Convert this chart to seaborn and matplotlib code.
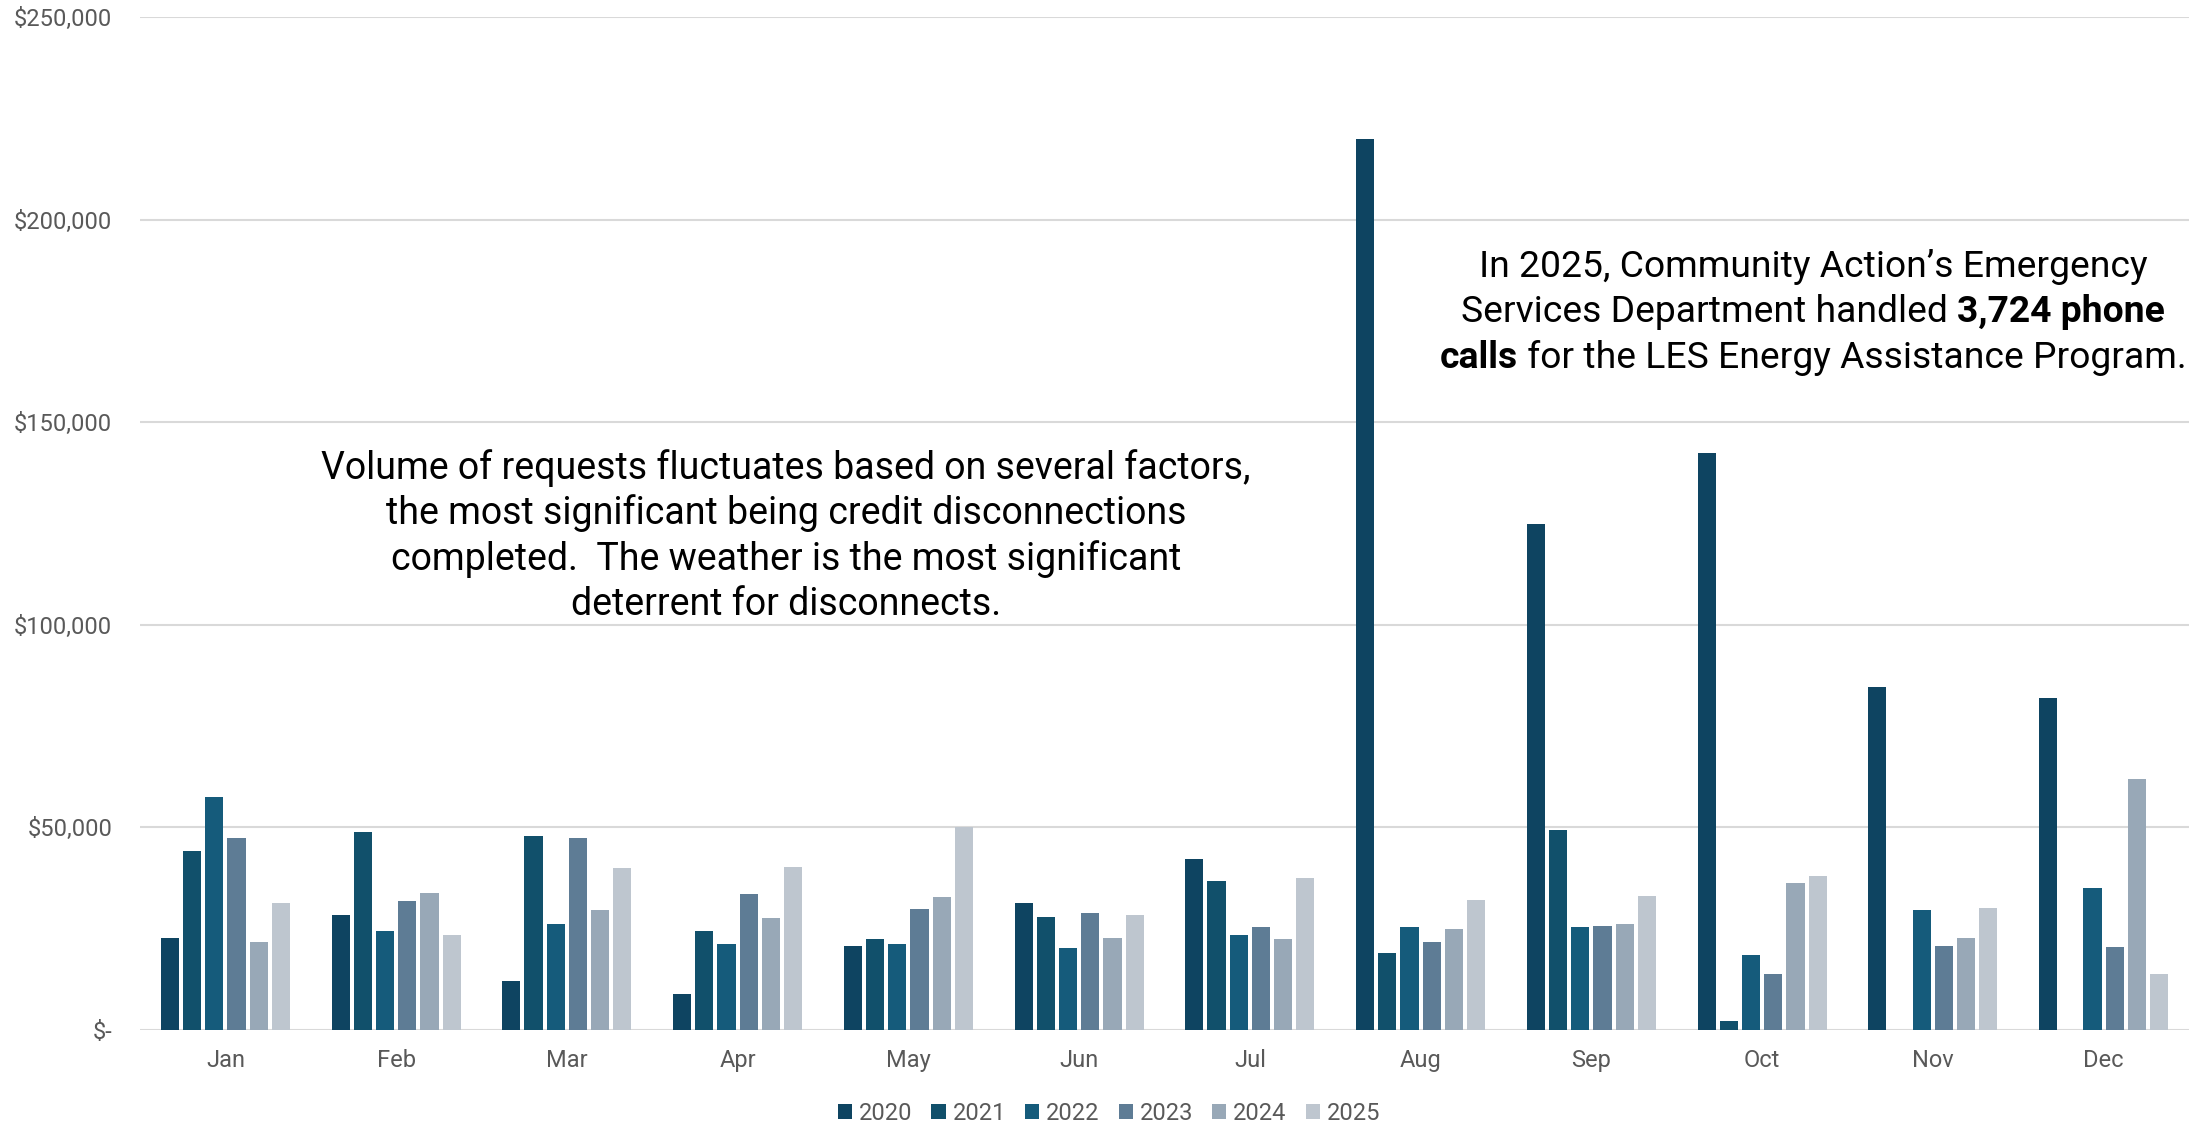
import numpy as np
import pandas as pd
import matplotlib.pyplot as plt
import seaborn as sns

months = ['Jan', 'Feb', 'Mar', 'Apr', 'May', 'Jun', 'Jul', 'Aug', 'Sep', 'Oct', 'Nov', 'Dec']
years = ['2020', '2021', '2022', '2023', '2024', '2025']

# values in $ thousands
y2020 = [22.7, 28.3, 12.1, 8.9, 20.8, 31.3, 42.2, 220.0, 124.9, 142.5, 84.7, 82.0]
y2021 = [44.2, 48.9, 47.8, 24.5, 22.5, 28.0, 36.7, 19.1, 49.3, 2.3, np.nan, np.nan]
y2022 = [57.4, 24.5, 26.2, 21.2, 21.2, 20.3, 23.5, 25.3, 25.4, 18.6, 29.7, 35.0]
y2023 = [47.4, 31.9, 47.3, 33.6, 29.8, 28.8, 25.3, 21.6, 25.7, 13.8, 20.8, 20.4]
y2024 = [21.8, 33.7, 29.7, 27.7, 32.9, 22.6, 22.4, 25.0, 26.1, 36.4, 22.6, 61.9]
y2025 = [31.3, 23.5, 40.1, 40.3, 50.2, 28.3, 37.5, 32.2, 33.0, 38.1, 30.0, 13.7]

colors = ['#0e4461', '#11506b', '#155b7b', '#5e7c95', '#98a8b7', '#bec6cf']

rows = []
for yr, vals in zip(years, [y2020, y2021, y2022, y2023, y2024, y2025]):
    for m, v in zip(months, vals):
        rows.append({'month': m, 'year': yr, 'amount': v * 1000})
df = pd.DataFrame(rows).dropna()

sns.set_style('white')
plt.rcParams['font.family'] = ['Roboto', 'DejaVu Sans']

W, H = 2203, 1127
fig = plt.figure(figsize=(W / 100, H / 100), dpi=100)
ax = fig.add_axes([140 / W, 1 - 1030 / H, (2189 - 140) / W, (1030 - 17) / H])

sns.barplot(data=df, x='month', y='amount', hue='year', order=months, hue_order=years,
            palette=colors, saturation=1, width=0.78, gap=0.18, linewidth=0,
            errorbar=None, legend=True, ax=ax, zorder=3)

ax.set_ylim(0, 250000)
ax.set_xlim(-0.5, 11.5)
ticks = np.arange(0, 250001, 50000)
ax.set_yticks(ticks)
ax.set_yticklabels(['$-' if t == 0 else f'${t:,.0f}' for t in ticks])
ax.grid(axis='y', color='#d9d9d9', linewidth=1.5, zorder=0)
ax.set_axisbelow(True)
for s in ax.spines.values():
    s.set_visible(False)
ax.tick_params(axis='y', length=0, pad=20, labelsize=17, labelcolor='#595959')
ax.tick_params(axis='x', length=0, pad=14, labelsize=17, labelcolor='#595959')
ax.set_xlabel('')
ax.set_ylabel('')

handles, labels = ax.get_legend_handles_labels()
ax.get_legend().remove()
fig.legend(handles, labels, loc='center', bbox_to_anchor=(1109 / W, 1 - 1113 / H), ncol=6,
           frameon=False, fontsize=17, labelcolor='#595959', handlelength=0.6,
           handleheight=0.6, handletextpad=0.3, columnspacing=0.8)

# left note
note1 = ['Volume of requests fluctuates based on several factors,',
         'the most significant being credit disconnections',
         'completed.  The weather is the most significant',
         'deterrent for disconnects.']
for i, line in enumerate(note1):
    fig.text(786 / W, 1 - (468 + 45.4 * i) / H, line, ha='center', va='center',
             fontsize=27, color='black')

# right note with bold parts
note2 = [[('In 2025, Community Action\u2019s Emergency', 'normal')],
         [('Services Department handled ', 'normal'), ('3,724 phone', 'bold')],
         [('calls', 'bold'), (' for the LES Energy Assistance Program.', 'normal')]]
renderer = fig.canvas.get_renderer()
cx = 1813
for i, parts in enumerate(note2):
    yy = 1 - (267 + 45.4 * i) / H
    txts = []
    for s, w in parts:
        t = fig.text(0, yy, s, ha='left', va='center', fontsize=26.8,
                     fontweight=w, color='black')
        txts.append(t)
    widths = [t.get_window_extent(renderer).width for t in txts]
    x = cx - sum(widths) / 2
    for t, wd in zip(txts, widths):
        t.set_x(x / W)
        x += wd

fig.savefig('out.png', dpi=100)
